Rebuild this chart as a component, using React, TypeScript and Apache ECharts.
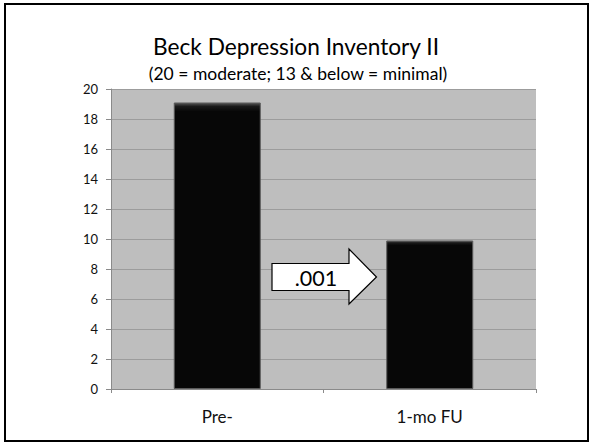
import React, { useEffect, useRef } from "react";
import * as echarts from "echarts";

const categories = ["Pre-", "1-mo FU"];
const values = [19.1, 9.9];
const titleText = "Beck Depression Inventory II";
const subtitleText = "(20 = moderate; 13 & below = minimal)";
const arrowLabel = ".001";

export default function App() {
  const ref = useRef<HTMLDivElement>(null);
  useEffect(() => {
    if (!ref.current) return;
    const chart = echarts.init(ref.current, null, { renderer: "svg" });
    const font = "Lato, 'Open Sans', sans-serif";
    chart.setOption({
      animation: false,
      backgroundColor: "#ffffff",
      grid: { left: 111, right: 56, top: 89, bottom: 56, show: true, backgroundColor: "#bebebe", borderWidth: 0 },
      xAxis: {
        type: "category",
        data: categories,
        axisLine: { lineStyle: { color: "#8a8a8a", width: 1 } },
        axisTick: { show: true, alignWithLabel: false, length: 4, lineStyle: { color: "#8a8a8a" } },
        axisLabel: { color: "#111", fontSize: 17, fontFamily: font, margin: 19 },
      },
      yAxis: {
        type: "value",
        min: 0,
        max: 20,
        interval: 2,
        axisLine: { show: true, lineStyle: { color: "#8a8a8a", width: 1 } },
        axisTick: { show: true, length: 5, lineStyle: { color: "#8a8a8a" } },
        axisLabel: { color: "#111", fontSize: 13, fontFamily: font, margin: 13 },
        splitLine: { show: true, lineStyle: { color: "#9c9c9c", width: 1 } },
      },
      series: [
        {
          type: "bar",
          data: values,
          barWidth: 87,
          itemStyle: {
            color: new echarts.graphic.LinearGradient(0, 0, 0, 1, [
              { offset: 0, color: "#555" },
              { offset: 0.012, color: "#1a1a1a" },
              { offset: 0.03, color: "#070707" },
              { offset: 1, color: "#070707" },
            ]),
            borderColor: "#5a5a5a",
            borderWidth: 1,
          },
        },
      ],
      graphic: [
        {
          type: "rect",
          shape: { x: 5, y: 4, width: 583, height: 437 },
          style: { fill: "none", stroke: "#000", lineWidth: 2 },
          silent: true,
        },
        {
          type: "text",
          x: 296,
          y: 46,
          style: { text: titleText, fontSize: 22.7, fontFamily: font, fill: "#000", align: "center", verticalAlign: "middle" },
        },
        {
          type: "text",
          x: 298,
          y: 73,
          style: { text: subtitleText, fontSize: 17.5, fontFamily: font, fill: "#000", align: "center", verticalAlign: "middle" },
        },
        {
          type: "polygon",
          shape: {
            points: [
              [272, 263.5],
              [349, 263.5],
              [349, 249],
              [376.5, 277],
              [349, 304],
              [349, 290.5],
              [272, 290.5],
            ],
          },
          style: { fill: "#ffffff", stroke: "#000", lineWidth: 1.2 },
          z: 10,
        },
        {
          type: "text",
          x: 316,
          y: 278,
          z: 11,
          style: { text: arrowLabel, fontSize: 21.5, fontFamily: font, fill: "#000", align: "center", verticalAlign: "middle" },
        },
      ],
    });
    return () => chart.dispose();
  }, []);
  return <div ref={ref} style={{ position: "fixed", left: 0, top: 0, width: 592, height: 445 }} />;
}
